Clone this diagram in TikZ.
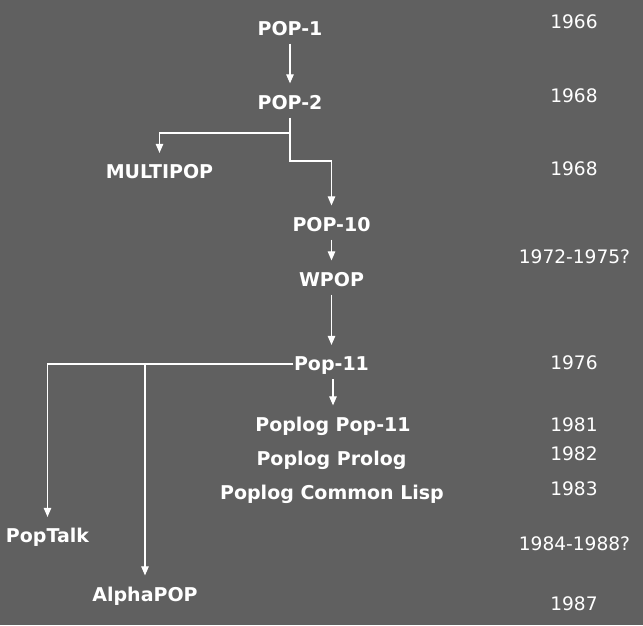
\documentclass[tikz,border=0pt]{standalone}
\usepackage{fontspec}
\setmainfont{DejaVu Sans}
\usetikzlibrary{arrows.meta}
\definecolor{bgc}{HTML}{606060}
\tikzset{
  lbl/.style={text=white, font=\bfseries\fontsize{19}{22}\selectfont, text height=13.85pt, text depth=0pt, inner ysep=8pt, inner xsep=0.5pt, anchor=center},
  yr/.style={text=white, font=\fontsize{18.6}{21}\selectfont, text height=13.5pt, text depth=0pt, inner sep=1pt, anchor=center},
  arr/.style={draw=white, line width=1.1pt, -{Triangle[length=9pt,width=7.5pt]}, shorten >=4pt}
}
\begin{document}
\begin{tikzpicture}[x=1pt,y=-1pt]
\fill[bgc] (0,0) rectangle (643,625);
\useasboundingbox (0,0) rectangle (643,625);
% labels
\node[lbl] (pop1) at (290,28.5) {POP-1};
\node[lbl] (pop2) at (290,102.5) {POP-2};
\node[lbl] (multipop) at (159.5,172) {MULTIPOP};
\node[lbl] (pop10) at (331.5,224.5) {POP-10};
\node[lbl] (wpop) at (331.5,279.5) {WPOP};
\node[lbl] (pop11) at (331.5,364) {Pop-11};
\node[lbl] (ppop11) at (333,424.5) {Poplog Pop-11};
\node[lbl] (pprolog) at (331.5,459) {Poplog Prolog};
\node[lbl] (plisp) at (332,493) {Poplog Common Lisp};
\node[lbl] (poptalk) at (47.5,536) {PopTalk};
\node[lbl] (alphapop) at (145,594.5) {AlphaPOP};
% years
\node[yr] (y1966) at (574,22) {1966};
\node[yr] (y1968a) at (574,95.5) {1968};
\node[yr] (y1968b) at (574,169) {1968};
\node[yr] (y1972) at (574.5,257) {1972-1975?};
\node[yr] (y1976) at (574,363) {1976};
\node[yr] (y1981) at (574,424.5) {1981};
\node[yr] (y1982) at (574,453.5) {1982};
\node[yr] (y1983) at (574,488.5) {1983};
\node[yr] (y1984) at (574.5,544) {1984-1988?};
\node[yr] (y1987) at (574,603.5) {1987};
% bend coordinates
\coordinate (b1) at (290,133);
\coordinate (b2) at (290,161);
% connectors
\draw[arr] (pop1.south) -- (pop2.north);
\draw[arr] (pop2.south) -- (b1) -| (multipop.north);
\draw[arr] (b1) -- (b2) -| (pop10.north);
\draw[arr] (pop10.south) -- (wpop.north);
\draw[arr] (wpop.south) -- (pop11.north);
\draw[arr] (pop11.south -| ppop11.north) -- (ppop11.north);
\draw[arr] (pop11.west) -| (poptalk.north);
\draw[arr] (pop11.west -| alphapop.north) -- (alphapop.north);
\end{tikzpicture}
\end{document}
